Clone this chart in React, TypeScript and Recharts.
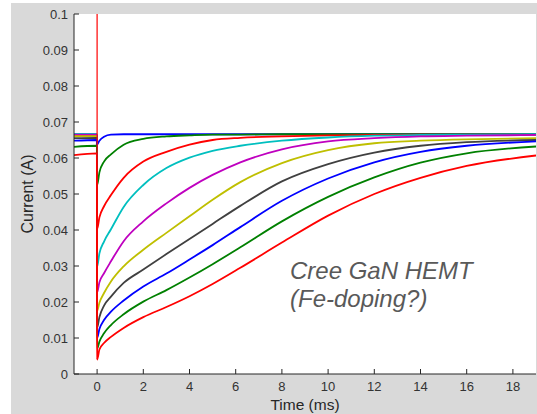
import React from 'react';
import { LineChart, Line, XAxis, YAxis, CartesianGrid } from 'recharts';

const times = [-1, -0.01, 0, 0.1, 0.3, 0.6, 1.15, 2, 3, 4, 5, 6.2, 8, 10, 12, 14, 16, 19];

const blue1 = [0.0666, 0.0666, 0.0638, 0.0648, 0.0659, 0.0665, 0.0666, 0.0666, 0.0666, 0.0666, 0.0666, 0.0666, 0.0666, 0.0666, 0.0666, 0.0666, 0.0666, 0.0666];
const green1 = [0.0664, 0.0664, 0.0524, 0.056, 0.059, 0.061, 0.0637, 0.0653, 0.066, 0.0663, 0.0665, 0.0665, 0.0666, 0.0666, 0.0666, 0.0666, 0.0666, 0.0666];
const red1 = [0.0663, 0.0663, 0.0402, 0.0435, 0.0466, 0.0497, 0.0545, 0.059, 0.0617, 0.0637, 0.065, 0.0656, 0.066, 0.0663, 0.0664, 0.0665, 0.0665, 0.0665];
const cyan = [0.0667, 0.0667, 0.0298, 0.0335, 0.0368, 0.0402, 0.0464, 0.0525, 0.0572, 0.0601, 0.062, 0.0634, 0.0648, 0.0657, 0.0662, 0.0664, 0.0665, 0.0666];
const magenta = [0.0665, 0.0665, 0.0227, 0.0255, 0.028, 0.0313, 0.0369, 0.0424, 0.0474, 0.0517, 0.0553, 0.0588, 0.0624, 0.0646, 0.0655, 0.066, 0.0662, 0.0664];
const yellow = [0.0661, 0.0661, 0.0175, 0.0198, 0.0225, 0.0257, 0.0299, 0.0345, 0.0392, 0.0438, 0.0484, 0.0533, 0.0586, 0.0622, 0.0641, 0.0648, 0.0652, 0.0655];
const black = [0.0655, 0.0656, 0.0128, 0.0158, 0.019, 0.0215, 0.0253, 0.029, 0.0333, 0.0375, 0.0417, 0.0467, 0.0535, 0.0583, 0.0615, 0.0634, 0.0644, 0.065];
const blue2 = [0.0648, 0.065, 0.01, 0.0125, 0.015, 0.0173, 0.0204, 0.0243, 0.0279, 0.0318, 0.0358, 0.0408, 0.0481, 0.0543, 0.0588, 0.0617, 0.0634, 0.0646];
const green2 = [0.0631, 0.0634, 0.007, 0.009, 0.0113, 0.0136, 0.0166, 0.0201, 0.0233, 0.0268, 0.0305, 0.0352, 0.0424, 0.0492, 0.0546, 0.0587, 0.0613, 0.0632];
const red2 = [0.0608, 0.0613, 0.004, 0.0068, 0.0086, 0.0103, 0.0128, 0.0158, 0.0186, 0.0216, 0.025, 0.0295, 0.0365, 0.044, 0.05, 0.0545, 0.0578, 0.0607];

const triggerTimes = [0, 0];
const triggerValues = [0.1, 0.004];

const xTicks = [0, 2, 4, 6, 8, 10, 12, 14, 16, 18];
const yTicks = [0, 0.01, 0.02, 0.03, 0.04, 0.05, 0.06, 0.07, 0.08, 0.09, 0.1];

const seriesList = [
  { name: 'blue1', values: blue1, color: '#0000ff' },
  { name: 'green1', values: green1, color: '#008000' },
  { name: 'red1', values: red1, color: '#ff0000' },
  { name: 'cyan', values: cyan, color: '#00bfbf' },
  { name: 'magenta', values: magenta, color: '#bf00bf' },
  { name: 'yellow', values: yellow, color: '#bfbf00' },
  { name: 'black', values: black, color: '#404040' },
  { name: 'blue2', values: blue2, color: '#0000ff' },
  { name: 'green2', values: green2, color: '#008000' },
  { name: 'red2', values: red2, color: '#ff0000' },
];

const toRows = (ts: number[], vs: number[]) => ts.map((t, i) => ({ t, v: vs[i] }));

const FONT = '"Liberation Sans", Arial, Helvetica, sans-serif';
const AXIS = '#262626';

const fmtY = (v: number) => (v === 0 ? '0' : String(+v.toFixed(2)));

const YLabel = (props: any) => {
  const vb = props.viewBox || { x: 0, y: 14, width: 74, height: 360 };
  const x = vb.x + 32.7;
  const y = vb.y + vb.height / 2;
  return (
    <text x={x} y={y} transform={`rotate(-90 ${x} ${y})`} textAnchor="middle" fontFamily={FONT} fontSize={16} fill={AXIS}>
      Current (A)
    </text>
  );
};

const XLabel = (props: any) => {
  const vb = props.viewBox || { x: 74, y: 374, width: 462, height: 40 };
  const x = vb.x + vb.width / 2;
  const y = vb.y + 35.5;
  return (
    <text x={x} y={y} textAnchor="middle" fontFamily={FONT} fontSize={15.5} fill={AXIS}>
      Time (ms)
    </text>
  );
};

export default function App() {
  return (
    <div style={{ position: 'absolute', left: 0, top: 0, width: 537, height: 414, background: '#ffffff' }}>
      <div style={{ position: 'absolute', left: 11, top: 3, width: 526, height: 411, background: '#d9d9d9' }} />
      <div style={{ position: 'absolute', left: 0, top: 0 }}>
        <LineChart width={537} height={414} margin={{ top: 14, right: 1, bottom: 0, left: 0 }}>
          <CartesianGrid horizontal={false} vertical={false} fill="#ffffff" stroke="none" />
          <XAxis
            dataKey="t"
            type="number"
            domain={[-1, 19]}
            ticks={xTicks}
            allowDataOverflow
            height={40}
            stroke={AXIS}
            tickSize={-5}
            tickMargin={13}
            tick={{ fontFamily: FONT, fontSize: 13, fill: '#333333' }}
            label={XLabel}
          />
          <XAxis
            xAxisId="top"
            orientation="top"
            dataKey="t"
            type="number"
            domain={[-1, 19]}
            ticks={xTicks}
            height={0}
            stroke={AXIS}
            tickSize={-5}
            tick={false}
          />
          <YAxis
            type="number"
            domain={[0, 0.1]}
            ticks={yTicks}
            allowDataOverflow
            width={74}
            stroke={AXIS}
            tickSize={-5}
            tickMargin={11}
            tickFormatter={fmtY}
            tick={{ fontFamily: FONT, fontSize: 13, fill: '#333333' }}
            label={YLabel}
          />
          <YAxis
            yAxisId="r"
            orientation="right"
            type="number"
            domain={[0, 0.1]}
            ticks={yTicks}
            width={0}
            stroke={AXIS}
            tickSize={-5}
            tick={false}
          />
          {seriesList.map((s) => (
            <Line
              key={s.name}
              data={toRows(times, s.values)}
              dataKey="v"
              type="monotone"
              stroke={s.color}
              strokeWidth={1.8}
              dot={false}
              isAnimationActive={false}
            />
          ))}
          <Line
            data={toRows(triggerTimes, triggerValues)}
            dataKey="v"
            type="linear"
            stroke="#ff0000"
            strokeWidth={1.2}
            dot={false}
            isAnimationActive={false}
          />
        </LineChart>
      </div>
      <svg width={537} height={414} style={{ position: 'absolute', left: 0, top: 0, pointerEvents: 'none' }}>
        <text fontFamily={FONT} fontStyle="italic" fontSize={24} fill="#595959">
          <tspan x={290} y={279.3}>Cree GaN HEMT</tspan>
          <tspan x={290} y={306.5}>(Fe-doping?)</tspan>
        </text>
      </svg>
    </div>
  );
}
